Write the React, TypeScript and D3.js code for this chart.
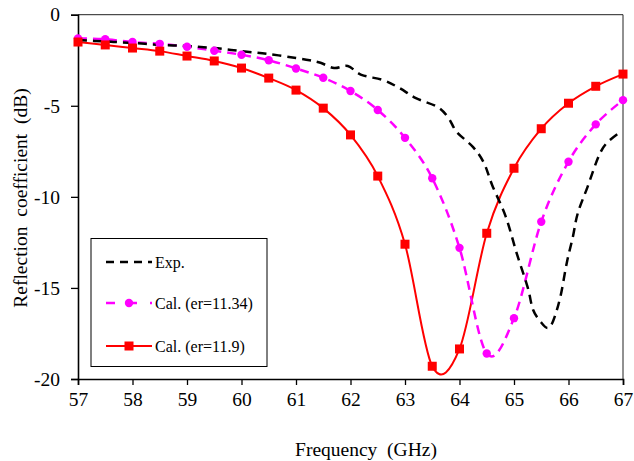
import React, { useEffect, useRef } from 'react'
import * as d3 from 'd3'

const xTicks = [57, 58, 59, 60, 61, 62, 63, 64, 65, 66, 67]
const yTicks = [0, -5, -10, -15, -20]

// measured curve
const expFreq = [57, 57.5, 58, 58.5, 59, 59.5, 60, 60.5, 61, 61.25, 61.45, 61.7, 61.95, 62.2, 62.6, 62.9, 63.2, 63.6, 63.8, 63.95, 64.25, 64.45, 64.6, 64.85, 65.05, 65.25, 65.35, 65.5, 65.62, 65.72, 65.85, 65.97, 66.08, 66.17, 66.35, 66.55, 66.7, 66.95]
const expVals = [-1.39, -1.47, -1.55, -1.66, -1.72, -1.83, -2.0, -2.16, -2.38, -2.5, -2.64, -2.93, -2.82, -3.3, -3.59, -4.03, -4.58, -5.07, -5.68, -6.44, -7.27, -8.15, -9.36, -11.1, -13.1, -14.96, -16.2, -16.9, -17.2, -16.8, -15.5, -13.6, -12.2, -10.9, -9.45, -7.8, -7.05, -6.44]

// calculated curves, every 0.5 GHz
const calFreq = [57, 57.5, 58, 58.5, 59, 59.5, 60, 60.5, 61, 61.5, 62, 62.5, 63, 63.5, 64, 64.5, 65, 65.5, 66, 66.5, 67]
const cal1134 = [-1.3, -1.35, -1.5, -1.6, -1.76, -1.98, -2.2, -2.5, -2.95, -3.46, -4.19, -5.23, -6.76, -8.98, -12.8, -18.6, -16.66, -11.37, -8.07, -6.02, -4.69]
const cal119 = [-1.5, -1.66, -1.83, -2.0, -2.27, -2.54, -2.93, -3.48, -4.14, -5.13, -6.6, -8.86, -12.6, -19.3, -18.35, -12.0, -8.43, -6.26, -4.86, -3.93, -3.26]

const legendLabels = ['Exp.', 'Cal. (er=11.34)', 'Cal. (er=11.9)']

const font = "'Liberation Serif', 'Times New Roman', Times, 'DejaVu Serif', serif"

export default function App() {
  const ref = useRef<SVGSVGElement>(null)

  useEffect(() => {
    const svg = d3.select(ref.current)
    svg.selectAll('*').remove()

    const left = 78, right = 623, top = 14.7, bottom = 379
    const x = d3.scaleLinear().domain([57, 67]).range([left, right])
    const y = d3.scaleLinear().domain([-20, 0]).range([bottom, top])

    // frame
    svg.append('line').attr('x1', left).attr('x2', right).attr('y1', top).attr('y2', top)
      .attr('stroke', '#222').attr('stroke-width', 1)
    svg.append('line').attr('x1', right).attr('x2', right).attr('y1', top).attr('y2', bottom)
      .attr('stroke', '#222').attr('stroke-width', 1)

    const xAxis = svg.append('g').attr('transform', `translate(0,${bottom})`)
      .call(d3.axisBottom(x).tickValues(xTicks).tickSize(6).tickPadding(7).tickFormat(d3.format('d')))
    const yAxis = svg.append('g').attr('transform', `translate(${left},0)`)
      .call(d3.axisLeft(y).tickValues(yTicks).tickSize(7).tickPadding(11).tickFormat(d => String(d)))
    ;[xAxis, yAxis].forEach(a => {
      a.attr('font-family', font).attr('font-size', 19.5)
      a.select('.domain').attr('stroke', '#000').attr('stroke-width', 1.6)
      a.selectAll('.tick line').attr('stroke', '#000').attr('stroke-width', 1.3)
      a.selectAll('text').attr('fill', '#000')
    })

    const curve = d3.curveCatmullRom.alpha(0)
    const line = d3.line<[number, number]>().x(d => x(d[0])).y(d => y(d[1])).curve(curve)

    const expData = expFreq.map((f, i) => [f, expVals[i]] as [number, number])
    const magData = calFreq.map((f, i) => [f, cal1134[i]] as [number, number])
    const redData = calFreq.map((f, i) => [f, cal119[i]] as [number, number])

    svg.append('path').attr('d', line(redData)).attr('fill', 'none')
      .attr('stroke', '#ff0000').attr('stroke-width', 2)
    svg.append('path').attr('d', line(magData)).attr('fill', 'none')
      .attr('stroke', '#ff00ff').attr('stroke-width', 2.5).attr('stroke-dasharray', '9,6')
    svg.append('path').attr('d', line(expData)).attr('fill', 'none')
      .attr('stroke', '#000').attr('stroke-width', 2.5).attr('stroke-dasharray', '9,6')

    svg.selectAll('.dot').data(magData).enter().append('circle')
      .attr('cx', d => x(d[0])).attr('cy', d => y(d[1])).attr('r', 4.2).attr('fill', '#ff00ff')
    svg.selectAll('.sq').data(redData).enter().append('rect')
      .attr('x', d => x(d[0]) - 4.5).attr('y', d => y(d[1]) - 4.5)
      .attr('width', 9).attr('height', 9).attr('fill', '#ff0000')

    // legend
    const lg = svg.append('g').attr('font-family', font).attr('font-size', 16)
    lg.append('rect').attr('x', 91).attr('y', 238.5).attr('width', 176).attr('height', 128)
      .attr('fill', '#fff').attr('stroke', '#000').attr('stroke-width', 1)
    const rows = [262, 303, 346]
    const styles = [
      { stroke: '#000', dash: '8,6', w: 2.5 },
      { stroke: '#ff00ff', dash: '9,13', w: 2.5 },
      { stroke: '#ff0000', dash: null, w: 2 },
    ]
    rows.forEach((ry, i) => {
      const s = styles[i]
      const l = lg.append('line').attr('x1', 106).attr('x2', 152).attr('y1', ry).attr('y2', ry)
        .attr('stroke', s.stroke).attr('stroke-width', s.w)
      if (s.dash) l.attr('stroke-dasharray', s.dash)
      if (i === 1) lg.append('circle').attr('cx', 129).attr('cy', ry).attr('r', 4.2).attr('fill', '#ff00ff')
      if (i === 2) lg.append('rect').attr('x', 124.5).attr('y', ry - 4.5).attr('width', 9).attr('height', 9).attr('fill', '#ff0000')
      lg.append('text').attr('x', 155).attr('y', ry).attr('dy', '0.35em')
        .attr('fill', '#000')
        .text(legendLabels[i])
    })

    const titles = svg.append('g').attr('font-family', font).attr('font-size', 19.5)
    titles.append('text').attr('x', 366).attr('y', 456).attr('text-anchor', 'middle')
      .attr('fill', '#000').style('white-space', 'pre')
      .text('Frequency  (GHz)')
    titles.append('text').attr('transform', 'translate(27,198) rotate(-90)').attr('text-anchor', 'middle')
      .attr('fill', '#000').style('white-space', 'pre')
      .text('Reflection  coefficient  (dB)')
  }, [])

  return (
    <svg ref={ref} width={634} height={461}
      style={{ position: 'absolute', left: 0, top: 0, background: '#fff' }} />
  )
}
